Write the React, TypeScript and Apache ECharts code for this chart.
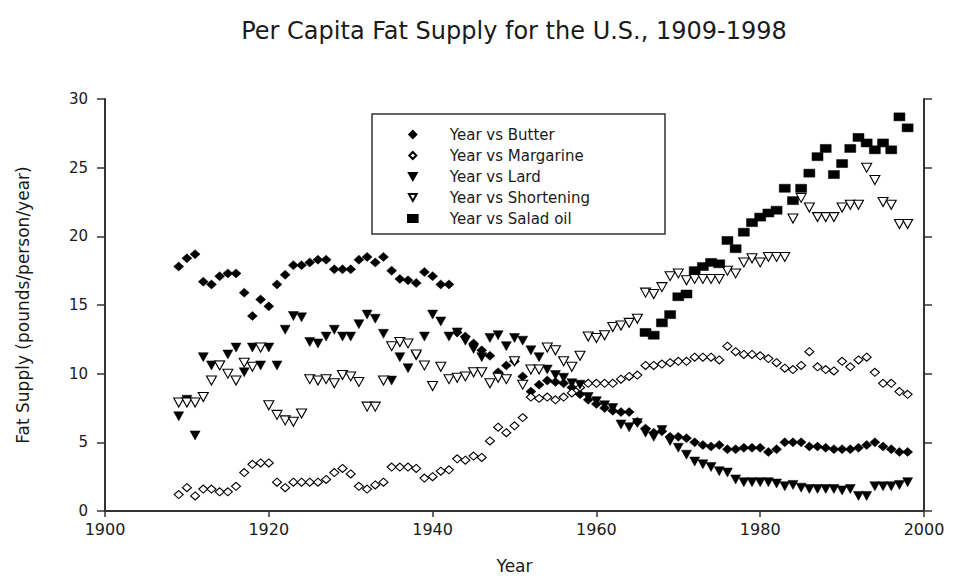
import React, { useEffect, useRef } from "react";
import * as echarts from "echarts";

const firstYear = 1909;
const saladFirstYear = 1966;

const butter = [
  17.8, 18.4, 18.7, 16.7, 16.5, 17.1, 17.3, 17.3, 15.9, 14.2,
  15.4, 14.9, 16.5, 17.2, 17.9, 17.9, 18.1, 18.3, 18.3, 17.6,
  17.6, 17.6, 18.3, 18.5, 18.1, 18.5, 17.5, 16.9, 16.8, 16.6,
  17.4, 17.1, 16.5, 16.5, 13.0, 12.7, 12.2, 11.7, 11.3, 10.1,
  10.6, 10.9, 9.8, 8.7, 9.2, 9.5, 9.4, 9.3, 9.0, 8.5,
  8.1, 7.8, 7.5, 7.3, 7.2, 7.2, 6.5, 6.0, 5.7, 5.8,
  5.4, 5.4, 5.3, 5.0, 4.8, 4.7, 4.8, 4.5, 4.5, 4.6,
  4.6, 4.6, 4.3, 4.5, 5.0, 5.0, 5.0, 4.7, 4.7, 4.6,
  4.5, 4.5, 4.5, 4.6, 4.8, 5.0, 4.7, 4.5, 4.3, 4.3,
];

const margarine = [
  1.2, 1.7, 1.1, 1.6, 1.6, 1.4, 1.4, 1.8, 2.8, 3.4,
  3.5, 3.5, 2.1, 1.7, 2.1, 2.1, 2.1, 2.1, 2.3, 2.8,
  3.1, 2.7, 1.8, 1.6, 1.9, 2.1, 3.2, 3.2, 3.2, 3.1,
  2.4, 2.5, 2.9, 3.0, 3.8, 3.7, 4.0, 3.9, 5.1, 6.1,
  5.7, 6.2, 6.8, 8.3, 8.2, 8.3, 8.1, 8.3, 8.6, 9.0,
  9.3, 9.3, 9.3, 9.3, 9.6, 9.8, 9.9, 10.6, 10.6, 10.7,
  10.8, 10.9, 10.9, 11.2, 11.2, 11.2, 11.0, 12.0, 11.6, 11.4,
  11.4, 11.3, 11.1, 10.8, 10.4, 10.3, 10.6, 11.6, 10.5, 10.3,
  10.2, 10.9, 10.5, 11.0, 11.2, 10.1, 9.3, 9.3, 8.7, 8.5,
];

const lard = [
  6.9, 8.1, 5.5, 11.2, 10.6, 10.6, 11.4, 11.9, 10.1, 11.9,
  10.6, 11.9, 10.6, 13.2, 14.2, 14.1, 12.3, 12.2, 12.7, 13.2,
  12.7, 12.7, 13.6, 14.3, 14.0, 12.9, 9.5, 11.2, 10.4, 11.3,
  12.7, 14.3, 13.8, 12.7, 13.0, 12.4, 11.8, 11.2, 12.6, 12.8,
  12.0, 12.6, 12.4, 11.7, 11.2, 10.3, 9.9, 9.7, 9.3, 9.2,
  8.3, 8.0, 7.7, 7.5, 6.3, 6.1, 6.4, 5.7, 5.4, 5.9,
  5.1, 4.6, 4.1, 3.6, 3.4, 3.2, 2.9, 2.8, 2.3, 2.1,
  2.1, 2.1, 2.1, 2.0, 1.8, 1.9, 1.7, 1.6, 1.6, 1.6,
  1.6, 1.5, 1.6, 1.1, 1.1, 1.8, 1.8, 1.8, 1.9, 2.1,
];

const shortening = [
  7.9, 7.9, 7.9, 8.3, 9.5, 10.6, 10.0, 9.5, 10.8, 10.5,
  11.9, 7.7, 7.0, 6.6, 6.5, 7.1, 9.6, 9.5, 9.6, 9.3,
  9.9, 9.8, 9.4, 7.6, 7.6, 9.5, 12.0, 12.3, 12.2, 11.4,
  10.6, 9.1, 10.5, 9.6, 9.7, 9.8, 10.1, 10.1, 9.3, 9.7,
  9.6, 10.9, 9.2, 10.3, 10.3, 11.9, 11.7, 10.9, 10.5, 11.3,
  12.7, 12.6, 12.8, 13.4, 13.5, 13.7, 14.0, 15.9, 15.8, 16.3,
  17.1, 17.3, 16.8, 16.9, 16.9, 16.9, 16.9, 17.5, 17.3, 18.1,
  18.4, 18.1, 18.5, 18.5, 18.5, 21.3, 22.8, 22.1, 21.4, 21.4,
  21.4, 22.1, 22.3, 22.3, 25.0, 24.1, 22.5, 22.3, 20.9, 20.9,
];

const saladOil = [
  13.0, 12.8, 13.7, 14.3, 15.6, 15.8, 17.5, 17.8, 18.1, 18.0,
  19.7, 19.1, 20.3, 21.0, 21.4, 21.7, 21.9, 23.5, 22.6, 23.5,
  24.6, 25.8, 26.4, 24.5, 25.3, 26.4, 27.2, 26.8, 26.3, 26.8,
  26.3, 28.7, 27.9,
];

const seriesNames = [
  "Year vs Butter",
  "Year vs Margarine",
  "Year vs Lard",
  "Year vs Shortening",
  "Year vs Salad oil",
];

const titleText = "Per Capita Fat Supply for the U.S., 1909-1998";
const xName = "Year";
const yName = "Fat Supply (pounds/person/year)";

const xMin = 1900;
const xMax = 2000;
const xStep = 20;
const yMin = 0;
const yMax = 30;
const yStep = 5;

const FONT = "DejaVu Sans";
const INK = "#1a1a1a";

const DIAMOND = "path://M5,0L10,5L5,10L0,5Z";
const DOWN_TRI = "path://M0,0L10,0L5,9Z";
const RECT = "path://M0,0L11,0L11,8L0,8Z";

function pairs(start: number, vals: number[]): number[][] {
  return vals.map((v, i) => [start + i, v]);
}

export default function App() {
  const ref = useRef<HTMLDivElement>(null);

  useEffect(() => {
    document.body.style.margin = "0";
    const chart = echarts.init(ref.current as HTMLDivElement, null, { renderer: "svg" });

    const filled = { color: "#000", borderColor: "#000", borderWidth: 0.5, opacity: 1 };
    const open = { color: "#fff", borderColor: "#000", borderWidth: 1.1, opacity: 1 };

    chart.setOption({
      animation: false,
      backgroundColor: "#fff",
      graphic: [
        {
          type: "text",
          x: 514,
          y: 31,
          style: {
            text: titleText,
            font: '24px "DejaVu Sans"',
            fill: INK,
            align: "center",
            verticalAlign: "middle",
            textAlign: "center",
            textVerticalAlign: "middle",
          },
        },
      ],
      legend: {
        orient: "vertical",
        left: 372,
        top: 114,
        padding: [13, 75, 8, 35],
        itemWidth: 64,
        itemHeight: 7,
        itemGap: 6,
        borderColor: "#333",
        borderWidth: 1.5,
        data: seriesNames,
        textStyle: { fontFamily: FONT, fontSize: 15, color: INK },
      },
      grid: { left: 105, right: 29, top: 99, bottom: 67 },
      xAxis: [
        {
          type: "value",
          min: xMin,
          max: xMax,
          interval: xStep,
          name: xName,
          nameLocation: "middle",
          nameGap: 46,
          nameTextStyle: { fontFamily: FONT, fontSize: 17, color: INK },
          axisLine: { show: true, lineStyle: { color: "#333", width: 2 } },
          axisTick: { show: true, inside: false, length: 6, lineStyle: { color: "#333", width: 1.5 } },
          axisLabel: {
            fontFamily: FONT,
            fontSize: 16,
            color: INK,
            margin: 10,
            formatter: (v: number) => String(v),
          },
          splitLine: { show: false },
        },
        {
          type: "value",
          position: "top",
          min: xMin,
          max: xMax,
          interval: xStep,
          axisLine: { show: true, lineStyle: { color: "#333", width: 2 } },
          axisTick: { show: false },
          axisLabel: { show: false },
          splitLine: { show: false },
        },
      ],
      yAxis: [
        {
          type: "value",
          min: yMin,
          max: yMax,
          interval: yStep,
          name: yName,
          nameLocation: "middle",
          nameGap: 74,
          nameRotate: 90,
          nameTextStyle: { fontFamily: FONT, fontSize: 17, color: INK },
          axisLine: { show: true, lineStyle: { color: "#333", width: 2 } },
          axisTick: { show: true, inside: false, length: 8, lineStyle: { color: "#333", width: 1.5 } },
          axisLabel: { fontFamily: FONT, fontSize: 15, color: INK, margin: 17 },
          splitLine: { show: false },
        },
        {
          type: "value",
          position: "right",
          min: yMin,
          max: yMax,
          interval: yStep,
          axisLine: { show: true, lineStyle: { color: "#333", width: 2 } },
          axisTick: { show: true, inside: false, length: 8, lineStyle: { color: "#333", width: 1.5 } },
          axisLabel: { show: false },
          splitLine: { show: false },
        },
      ],
      series: [
        {
          name: seriesNames[0],
          type: "scatter",
          symbol: DIAMOND,
          symbolSize: [10, 9],
          itemStyle: filled,
          data: pairs(firstYear, butter),
        },
        {
          name: seriesNames[1],
          type: "scatter",
          symbol: DIAMOND,
          symbolSize: [9, 8],
          itemStyle: open,
          data: pairs(firstYear, margarine),
        },
        {
          name: seriesNames[2],
          type: "scatter",
          symbol: DOWN_TRI,
          symbolSize: [10, 9],
          itemStyle: filled,
          data: pairs(firstYear, lard),
        },
        {
          name: seriesNames[3],
          type: "scatter",
          symbol: DOWN_TRI,
          symbolSize: [10, 9],
          itemStyle: open,
          data: pairs(firstYear, shortening),
        },
        {
          name: seriesNames[4],
          type: "scatter",
          symbol: RECT,
          symbolSize: [11, 8],
          itemStyle: filled,
          data: pairs(saladFirstYear, saladOil),
        },
      ],
    });

    return () => chart.dispose();
  }, []);

  return <div ref={ref} style={{ width: 953, height: 579 }} />;
}
